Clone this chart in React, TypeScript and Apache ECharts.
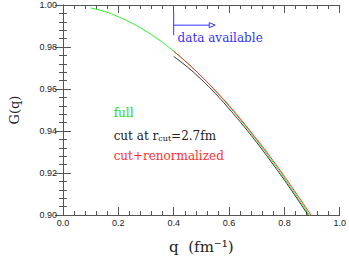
import React, { useEffect, useRef } from "react";
import * as echarts from "echarts";

const qFull = [0.1, 0.15, 0.2, 0.25, 0.3, 0.35, 0.4, 0.45, 0.5, 0.55, 0.6, 0.65, 0.7, 0.75, 0.8, 0.85, 0.9];
const gFull = [0.9986, 0.9969, 0.9944, 0.9913, 0.9875, 0.9831, 0.978, 0.9723, 0.966, 0.9592, 0.9518, 0.9439, 0.9355, 0.9267, 0.9175, 0.9079, 0.898];
const qCut = [0.4, 0.45, 0.5, 0.55, 0.6, 0.65, 0.7, 0.75, 0.8, 0.85, 0.9];
const gCut = [0.9755, 0.9704, 0.9645, 0.9579, 0.9506, 0.9428, 0.9345, 0.9257, 0.9166, 0.907, 0.8971];
const gRenorm = [0.978, 0.9723, 0.966, 0.9593, 0.9521, 0.9443, 0.9361, 0.9275, 0.9184, 0.9089, 0.8992];

const SERIF = "DejaVu Serif";

export default function App() {
  const ref = useRef<HTMLDivElement>(null);
  useEffect(() => {
    if (!ref.current) return;
    const chart = echarts.init(ref.current, null, { renderer: "svg" });
    const axisCommon = {
      axisLine: { lineStyle: { color: "#555", width: 1 } },
      axisTick: { inside: true, length: 8, lineStyle: { color: "#555" } },
      minorTick: { show: true, splitNumber: 5, length: 4, lineStyle: { color: "#555" } },
      splitLine: { show: false },
    };
    chart.setOption({
      animation: false,
      grid: { left: 62, right: 9, top: 5, bottom: 39 },
      xAxis: [
        {
          ...axisCommon,
          type: "value",
          min: 0,
          max: 1,
          interval: 0.2,
          position: "bottom",
          axisLabel: {
            fontFamily: "Liberation Sans",
            fontSize: 9,
            color: "#222",
            margin: 3,
            formatter: (v: number) => v.toFixed(1),
          },
          name: "q  (fm⁻¹)",
          nameLocation: "middle",
          nameGap: 24,
          nameTextStyle: { fontFamily: SERIF, fontSize: 15, color: "#222" },
        },
        {
          ...axisCommon,
          type: "value",
          min: 0,
          max: 1,
          interval: 0.2,
          position: "top",
          axisLabel: { show: false },
        },
      ],
      yAxis: [
        {
          ...axisCommon,
          type: "value",
          min: 0.9,
          max: 1.0,
          interval: 0.02,
          position: "left",
          axisLabel: {
            fontFamily: "Liberation Sans",
            fontSize: 9,
            color: "#222",
            margin: 6,
            formatter: (v: number) => v.toFixed(2),
          },
          name: "G(q)",
          nameLocation: "middle",
          nameGap: 42,
          nameTextStyle: { fontFamily: SERIF, fontSize: 13, color: "#222" },
        },
        {
          ...axisCommon,
          type: "value",
          min: 0.9,
          max: 1.0,
          interval: 0.02,
          position: "right",
          axisLabel: { show: false },
        },
      ],
      series: [
        {
          type: "line",
          data: qCut.map((q, i) => [q, gCut[i]]),
          showSymbol: false,
          smooth: true,
          lineStyle: { color: "#333", width: 1 },
        },
        {
          type: "line",
          data: qFull.map((q, i) => [q, gFull[i]]),
          showSymbol: false,
          smooth: true,
          lineStyle: { color: "#22ee22", width: 1 },
        },
        {
          type: "line",
          data: qCut.map((q, i) => [q, gRenorm[i]]),
          showSymbol: false,
          smooth: true,
          lineStyle: { color: "#ff3030", width: 1 },
        },
      ],
    });
    const p = (x: number, y: number) => chart.convertToPixel({ gridIndex: 0 }, [x, y]) as number[];
    const vTop = p(0.4, 0.9963);
    const vBot = p(0.4, 0.9856);
    const aStart = p(0.4, 0.9904);
    const aEnd = p(0.55, 0.9904);
    const tData = p(0.414, 0.9845);
    const tFull = p(0.183, 0.9486);
    const tCut = p(0.183, 0.9379);
    const tRen = p(0.183, 0.9281);
    const blue = "#3333ff";
    const LH = 14;
    const mkTitle = (pos: number[], text: string, color: string, rich?: any) => ({
      text,
      left: pos[0],
      top: pos[1] - LH / 2,
      padding: 0,
      textStyle: { fontFamily: SERIF, fontSize: 12, fontWeight: "normal", color, lineHeight: LH, rich },
    });
    chart.setOption({
      title: [
        mkTitle(tData, "data available", blue),
        mkTitle(tFull, "full", "#22dd22"),
        mkTitle(tCut, "{a|cut at r}{s|cut}{a|=2.7fm}", "#222", {
          a: { fontFamily: SERIF, fontSize: 12, color: "#222", lineHeight: LH, verticalAlign: "bottom" },
          s: { fontFamily: SERIF, fontSize: 8, color: "#222", lineHeight: 10, verticalAlign: "bottom" },
        }),
        mkTitle(tRen, "cut+renormalized", "#ff3030"),
      ],
      graphic: [
        { type: "line", shape: { x1: vTop[0], y1: vTop[1], x2: vBot[0], y2: vBot[1] }, style: { stroke: blue, lineWidth: 1 } },
        { type: "line", shape: { x1: aStart[0], y1: aStart[1], x2: aEnd[0] - 6, y2: aEnd[1] }, style: { stroke: blue, lineWidth: 1 } },
        {
          type: "polygon",
          shape: { points: [[aEnd[0] - 6, aEnd[1] - 2.5], [aEnd[0], aEnd[1]], [aEnd[0] - 6, aEnd[1] + 2.5]] },
          style: { stroke: blue, fill: "none", lineWidth: 1 },
        },
      ],
    });
    return () => chart.dispose();
  }, []);
  return <div ref={ref} style={{ width: 349, height: 259, position: "absolute", left: 0, top: 0 }} />;
}
